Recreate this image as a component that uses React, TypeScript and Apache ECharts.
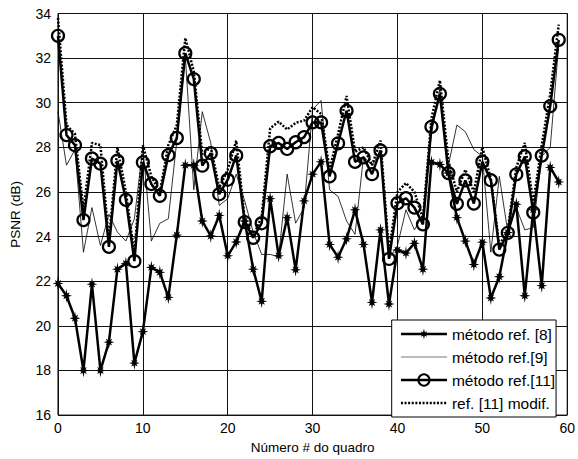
import React, { useEffect, useRef } from "react";
import * as echarts from "echarts";

const frames = [
  0, 1, 2, 3, 4, 5, 6, 7, 8, 9, 10, 11, 12, 13, 14, 15, 16, 17, 18, 19,
  20, 21, 22, 23, 24, 25, 26, 27, 28, 29, 30, 31, 32, 33, 34, 35, 36, 37, 38, 39,
  40, 41, 42, 43, 44, 45, 46, 47, 48, 49, 50, 51, 52, 53, 54, 55, 56, 57, 58, 59,
];

const ref8 = [
  21.9, 21.35, 20.34, 18.0, 21.87, 18.0, 19.27, 22.54, 22.8, 18.33,
  19.74, 22.62, 22.4, 21.28, 24.07, 27.2, 27.2, 24.7, 24.03, 24.95,
  23.14, 23.76, 24.7, 22.54, 21.1, 25.7, 23.14, 24.85, 22.51, 25.6,
  26.8, 27.35, 23.65, 23.08, 23.9, 25.2, 23.65, 21.05, 24.3, 20.98,
  23.4, 23.26, 23.7, 22.54, 27.33, 27.23, 26.85, 24.85, 23.8, 22.75,
  23.75, 21.25, 22.2, 24.18, 25.45, 21.35, 25.2, 21.8, 27.1, 26.45,
];

const ref9 = [
  29.6, 27.2, 27.9, 23.3, 25.3, 23.6, 25.0, 24.2, 23.8, 24.8,
  28.0, 23.8, 24.6, 24.8, 28.3, 32.1, 26.1, 29.6, 28.2, 25.4,
  25.7, 26.8, 25.6, 24.2, 23.2, 23.2, 23.1, 26.8, 24.6, 25.3,
  29.7, 30.1, 26.1, 25.8, 24.7, 24.1, 27.6, 27.2, 27.8, 23.0,
  23.6, 25.2, 24.3, 25.0, 28.6, 30.6, 27.2, 29.0, 28.7, 27.9,
  27.6, 23.3, 26.7, 24.2, 25.3, 24.3, 24.4, 27.6, 28.0, 32.6,
];

const ref11 = [
  33.0, 28.55, 28.1, 24.74, 27.5, 27.27, 23.54, 27.4, 25.65, 22.9,
  27.33, 26.36, 25.83, 27.65, 28.42, 32.22, 31.06, 27.18, 27.74, 25.9,
  26.55, 27.64, 24.65, 23.95, 24.6, 28.05, 28.2, 27.93, 28.23, 28.46,
  29.12, 29.12, 26.7, 28.18, 29.64, 27.35, 27.55, 26.8, 27.86, 23.0,
  25.5, 25.72, 25.3, 24.55, 28.92, 30.4, 26.85, 25.47, 26.52, 25.48,
  27.36, 26.53, 23.42, 24.17, 26.79, 27.59, 25.08, 27.63, 29.85, 32.82,
];

const ref11mod = [
  33.8, 29.0, 28.6, 25.2, 28.2, 28.1, 23.8, 28.0, 26.0, 23.2,
  28.1, 26.7, 26.0, 28.1, 29.0, 32.9, 31.4, 27.7, 28.0, 26.2,
  27.0, 28.3, 24.8, 24.0, 24.9, 28.85, 29.15, 28.8, 29.1, 29.2,
  29.8, 29.5, 27.0, 28.6, 30.3, 27.8, 28.0, 27.2, 28.3, 23.3,
  26.0, 26.4, 26.0, 24.8, 29.3, 31.0, 27.4, 26.0, 27.0, 26.0,
  28.0, 26.6, 23.6, 24.3, 27.1, 28.2, 25.5, 28.1, 30.4, 33.5,
];

const seriesNames = ["método ref. [8]", "método ref.[9]", "método ref.[11]", "ref. [11] modif."];

const FONT = "'Liberation Sans', Arial, Helvetica, sans-serif";

function starPath(): string {
  const pts: string[] = [];
  const outer = [10, 7, 8.5, 7, 10, 7, 8.5, 7];
  const inner = 3.4;
  for (let i = 0; i < 16; i++) {
    const ang = (i * Math.PI) / 8 - Math.PI / 2;
    const r = i % 2 === 0 ? outer[i / 2] : inner;
    const x = 10 + r * Math.cos(ang);
    const y = 10 + r * Math.sin(ang);
    pts.push(`${i === 0 ? "M" : "L"}${x.toFixed(2)} ${y.toFixed(2)}`);
  }
  return "path://" + pts.join(" ") + " Z";
}

const pairs = (vals: number[]) => frames.map((f, i) => [f, vals[i]]);

export default function App() {
  const ref = useRef<HTMLDivElement>(null);
  useEffect(() => {
    const chart = echarts.init(ref.current!, null, { renderer: "svg" });
    const hiddenSym = { color: "transparent", borderColor: "transparent", borderWidth: 0 };
    chart.setOption({
      animation: false,
      backgroundColor: "#fff",
      textStyle: { fontFamily: FONT },
      grid: {
        left: 56.7,
        right: 8.5,
        top: 13.5,
        bottom: 42,
        show: true,
        borderColor: "#000",
        borderWidth: 1,
      },
      xAxis: {
        type: "value",
        min: 0,
        max: 60,
        interval: 10,
        name: "Número # do quadro",
        nameLocation: "middle",
        nameGap: 24,
        nameTextStyle: { fontSize: 13.5, color: "#000", fontFamily: FONT },
        axisLine: { show: false },
        axisTick: { show: false },
        axisLabel: { fontSize: 14, color: "#000", margin: 6, fontFamily: FONT },
        splitLine: { show: true, lineStyle: { color: "#111", width: 1 } },
      },
      yAxis: {
        type: "value",
        min: 16,
        max: 34,
        interval: 2,
        name: "PSNR (dB)",
        nameLocation: "middle",
        nameGap: 36,
        nameTextStyle: { fontSize: 13.5, color: "#000", fontFamily: FONT },
        axisLine: { show: false },
        axisTick: { show: false },
        axisLabel: { fontSize: 14, color: "#000", margin: 7, fontFamily: FONT },
        splitLine: { show: true, lineStyle: { color: "#111", width: 1 } },
      },
      legend: {
        orient: "vertical",
        left: 391.7,
        top: 320,
        padding: [6, 1, 6, 8],
        itemWidth: 46,
        itemHeight: 14,
        itemGap: 7,
        backgroundColor: "#fff",
        borderColor: "#000",
        borderWidth: 1,
        borderRadius: 0,
        textStyle: { fontSize: 15.5, color: "#000", fontFamily: FONT },
        data: [
          { name: seriesNames[0], lineStyle: { width: 2.5, color: "#000" } },
          { name: seriesNames[1], itemStyle: hiddenSym, lineStyle: { width: 0.8, color: "#555" } },
          { name: seriesNames[2], lineStyle: { width: 2.5, color: "#000" } },
          {
            name: seriesNames[3],
            itemStyle: hiddenSym,
            lineStyle: { width: 2.5, color: "#000", type: [2, 1.6] },
          },
        ],
      },
      series: [
        {
          name: seriesNames[0],
          type: "line",
          data: pairs(ref8),
          symbol: starPath(),
          symbolSize: [11, 14],
          lineStyle: { color: "#000", width: 2.5 },
          itemStyle: { color: "#000" },
        },
        {
          name: seriesNames[1],
          type: "line",
          data: pairs(ref9),
          showSymbol: false,
          symbol: "circle",
          symbolSize: 0,
          lineStyle: { color: "#000", width: 0.8 },
          itemStyle: hiddenSym,
        },
        {
          name: seriesNames[2],
          type: "line",
          data: pairs(ref11),
          symbol: "circle",
          symbolSize: 12,
          lineStyle: { color: "#000", width: 2.5 },
          itemStyle: { color: "transparent", borderColor: "#000", borderWidth: 2.2 },
        },
        {
          name: seriesNames[3],
          type: "line",
          data: pairs(ref11mod),
          showSymbol: false,
          symbol: "circle",
          symbolSize: 0,
          lineStyle: { color: "#000", width: 2.5, type: [2, 1.6] },
          itemStyle: hiddenSym,
        },
      ],
    });
    return () => chart.dispose();
  }, []);
  return (
    <div
      ref={ref}
      style={{ position: "fixed", left: 0, top: 0, width: 578, height: 459, background: "#fff" }}
    />
  );
}
